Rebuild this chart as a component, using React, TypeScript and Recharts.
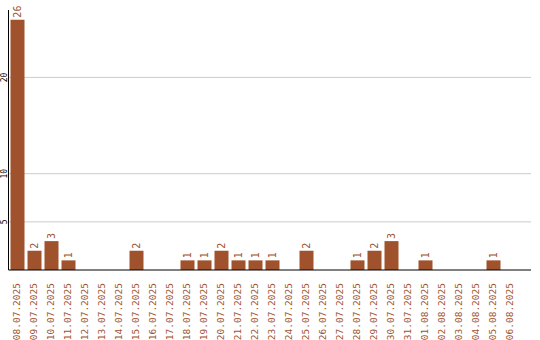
import { BarChart, Bar, XAxis, YAxis, CartesianGrid, LabelList } from "recharts";

const dates = [
  "08.07.2025", "09.07.2025", "10.07.2025", "11.07.2025", "12.07.2025",
  "13.07.2025", "14.07.2025", "15.07.2025", "16.07.2025", "17.07.2025",
  "18.07.2025", "19.07.2025", "20.07.2025", "21.07.2025", "22.07.2025",
  "23.07.2025", "24.07.2025", "25.07.2025", "26.07.2025", "27.07.2025",
  "28.07.2025", "29.07.2025", "30.07.2025", "31.07.2025", "01.08.2025",
  "02.08.2025", "03.08.2025", "04.08.2025", "05.08.2025", "06.08.2025",
];

const counts = [
  26, 2, 3, 1, 0, 0, 0, 2, 0, 0,
  1, 1, 2, 1, 1, 1, 0, 2, 0, 0,
  1, 2, 3, 0, 1, 0, 0, 0, 1, 0,
];

const yTicks = [5, 10, 20];

const data = dates.map((date, i) => ({ date, count: counts[i] }));

const BROWN = "#A0522D";
const MONO = "'DejaVu Sans Mono', monospace";

const DateTick = ({ x, y, payload }: any) => (
  <text
    x={x}
    y={y + 5}
    transform={`rotate(-90, ${x}, ${y + 5})`}
    textAnchor="end"
    dy="0.35em"
    fill={BROWN}
    fontSize={9.5}
    fontFamily={MONO}
  >
    {payload.value}
  </text>
);

const CountTick = ({ y, payload }: any) => (
  <text
    x={4.5}
    y={y}
    transform={`rotate(-90, 4.5, ${y})`}
    textAnchor="middle"
    dy="0.35em"
    fill="#000"
    fontSize={8}
    fontFamily={MONO}
  >
    {payload.value}
  </text>
);

const ValueLabel = ({ x, y, width, value }: any) => {
  if (!value) return null;
  const cx = x + width / 2;
  const cy = y - 2;
  return (
    <text
      x={cx}
      y={cy}
      transform={`rotate(-90, ${cx}, ${cy})`}
      textAnchor="start"
      dy="0.35em"
      fill={BROWN}
      fontSize={10}
      fontFamily={MONO}
    >
      {value}
    </text>
  );
};

export default function App() {
  return (
    <div style={{ width: 540, height: 340 }}>
      <style>{`body { margin: 0; }`}</style>
      <BarChart
        width={540}
        height={340}
        data={data}
        margin={{ top: 10, right: 9, left: 0, bottom: 0 }}
        barCategoryGap={0}
      >
        <CartesianGrid vertical={false} stroke="#cccccc" syncWithTicks />
        <XAxis
          dataKey="date"
          interval={0}
          height={70}
          tickLine={false}
          axisLine={{ stroke: "#000" }}
          padding={{ left: 0, right: 12.5 }}
          tick={<DateTick />}
        />
        <YAxis
          width={8.5}
          domain={[0, 27]}
          ticks={yTicks}
          tickLine={false}
          axisLine={{ stroke: "#000" }}
          tick={<CountTick />}
        />
        <Bar dataKey="count" fill={BROWN} barSize={14} isAnimationActive={false}>
          <LabelList dataKey="count" content={<ValueLabel />} />
        </Bar>
      </BarChart>
    </div>
  );
}
